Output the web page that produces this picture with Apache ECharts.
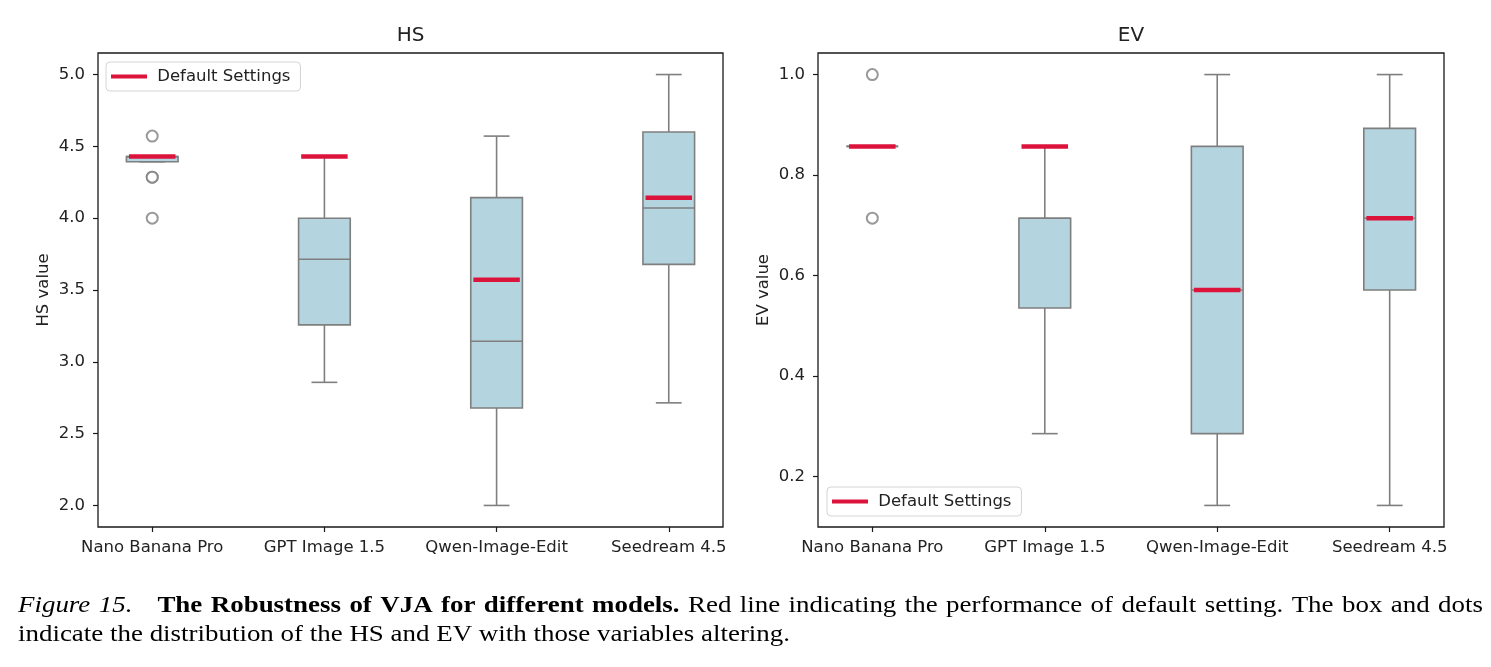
<!DOCTYPE html>
<html>
<head>
<meta charset="utf-8">
<title>Robustness of VJA</title>
<script src="https://cdn.jsdelivr.net/npm/echarts@6/dist/echarts.min.js"></script>
<style>
  html, body { margin: 0; padding: 0; background: #fff; }
  #main { width: 1491px; height: 667px; }
</style>
</head>
<body>
<div id="main"></div>
<script>
// models on the x axis
var categories = ['Nano Banana Pro', 'GPT Image 1.5', 'Qwen-Image-Edit', 'Seedream 4.5'];

// HS: [min, q1, median, q3, max] per model
var hsBoxes = [
  [4.3929, 4.3929, 4.4286, 4.4286, 4.4286],
  [2.8571, 3.2571, 3.7143, 4.0, 4.4286],
  [2.0, 2.6786, 3.1429, 4.1429, 4.5714],
  [2.7143, 3.6786, 4.0714, 4.6, 5.0]
];
var hsOutliers = [[0, 4.5714], [0, 4.2857], [0, 4.2857], [0, 4.0]];
var hsDefault = [4.4286, 4.4286, 3.5714, 4.1429];
var hsTicks = [2.0, 2.5, 3.0, 3.5, 4.0, 4.5, 5.0];

// EV: [min, q1, median, q3, max] per model
var evBoxes = [
  [0.8571, 0.8571, 0.8571, 0.8571, 0.8571],
  [0.2857, 0.5357, 0.7143, 0.7143, 0.8571],
  [0.1429, 0.2857, 0.5714, 0.8571, 1.0],
  [0.1429, 0.5714, 0.7143, 0.8929, 1.0]
];
var evOutliers = [[0, 1.0], [0, 0.7143]];
var evDefault = [0.8571, 0.8571, 0.5714, 0.7143];
var evTicks = [0.2, 0.4, 0.6, 0.8, 1.0];

var catPos = [0, 1, 2, 3];
var boxFill = '#b4d4df';
var boxEdge = '#7f7f7f';
var red = '#dc143c';
var ink = '#1a1a1a';
var sans = 'DejaVu Sans';
var serif = 'Liberation Serif';

var chart = echarts.init(document.getElementById('main'));

function renderBox(params, api) {
  var x = api.value(0);
  var lo = api.coord([x, api.value(1)]);
  var q1 = api.coord([x, api.value(2)]);
  var md = api.coord([x, api.value(3)]);
  var q3 = api.coord([x, api.value(4)]);
  var hi = api.coord([x, api.value(5)]);
  var w = api.size([0.3, 0])[0];
  var cx = lo[0];
  var ls = { stroke: boxEdge, lineWidth: 1.6 };
  return {
    type: 'group',
    children: [
      { type: 'line', shape: { x1: cx, y1: lo[1], x2: cx, y2: q1[1] }, style: ls },
      { type: 'line', shape: { x1: cx, y1: q3[1], x2: cx, y2: hi[1] }, style: ls },
      { type: 'line', shape: { x1: cx - w / 4, y1: lo[1], x2: cx + w / 4, y2: lo[1] }, style: ls },
      { type: 'line', shape: { x1: cx - w / 4, y1: hi[1], x2: cx + w / 4, y2: hi[1] }, style: ls },
      { type: 'rect', shape: { x: cx - w / 2, y: q3[1], width: w, height: q1[1] - q3[1] },
        style: { fill: boxFill, stroke: boxEdge, lineWidth: 1.6 } },
      { type: 'line', shape: { x1: cx - w / 2, y1: md[1], x2: cx + w / 2, y2: md[1] }, style: ls }
    ]
  };
}

function renderDefault(params, api) {
  var p = api.coord([api.value(0), api.value(1)]);
  var w = api.size([0.27, 0])[0];
  return {
    type: 'line',
    shape: { x1: p[0] - w / 2, y1: p[1], x2: p[0] + w / 2, y2: p[1] },
    style: { stroke: red, lineWidth: 4.5 }
  };
}

function xAxisFor(idx) {
  return {
    type: 'value', gridIndex: idx, min: -0.315, max: 3.315,
    axisLine: { show: false, onZero: false },
    splitLine: { show: false },
    axisTick: { show: true, length: 5, customValues: catPos, lineStyle: { color: ink, width: 1.2 } },
    axisLabel: {
      customValues: catPos, margin: 12, fontSize: 16.5, fontFamily: sans, color: '#222',
      formatter: function (v) { return categories[Math.round(v)]; }
    }
  };
}

function yAxisFor(idx, name, min, max, ticks, digits) {
  return {
    type: 'value', gridIndex: idx, min: min, max: max,
    name: name, nameLocation: 'middle', nameGap: 46,
    nameTextStyle: { fontSize: 16.5, fontFamily: sans, color: '#222' },
    axisLine: { show: false, onZero: false },
    splitLine: { show: false },
    axisTick: { show: true, length: 5, customValues: ticks, lineStyle: { color: ink, width: 1.2 } },
    axisLabel: {
      customValues: ticks, margin: 13, fontSize: 16.5, fontFamily: sans, color: '#222',
      formatter: function (v) { return v.toFixed(digits); }
    }
  };
}

function legendAt(left, top) {
  return {
    left: left, top: top, orient: 'horizontal',
    data: [{ name: 'Default Settings', icon: 'rect' }],
    itemWidth: 36, itemHeight: 4,
    formatter: ' {name}',
    textStyle: { fontSize: 16.5, fontFamily: sans, color: '#222' },
    backgroundColor: '#fff', borderColor: '#d4d4d4', borderWidth: 1, borderRadius: 4,
    padding: [6, 10, 6, 5],
    selectedMode: false
  };
}

// caption: line 1 is justified, so word gaps are widened to reach the right edge
var capSize = 23;
var ctx = document.createElement('canvas').getContext('2d');
function tw(style, s) {
  ctx.font = style + ' ' + capSize + 'px "' + serif + '"';
  return ctx.measureText(s).width;
}
var capItalic = ['Figure', '15.'];
var capBold = ['The', 'Robustness', 'of', 'VJA', 'for', 'different', 'models.'];
var capPlain = ('Red line indicating the performance of default setting. The box and dots').split(' ');
var capLine2 = 'indicate the distribution of the HS and EV with those variables altering.';

var s2 = 772 / tw('normal', capLine2);
var wordsW = 0;
capItalic.forEach(function (w) { wordsW += tw('italic', w); });
capBold.forEach(function (w) { wordsW += tw('bold', w); });
capPlain.forEach(function (w) { wordsW += tw('normal', w); });
var bigGap = 25 / s2;
var nGaps = (capItalic.length - 1) + (capBold.length - 1) + 1 + (capPlain.length - 1);
var gapW = (1465 / s2 - wordsW - bigGap) / nGaps;
var sp = '{sp| }';
var line1 = capItalic.map(function (w) { return '{it|' + w + '}'; }).join(sp) + '{gp| }' +
  capBold.map(function (w) { return '{bd|' + w + '}'; }).join(sp) + sp +
  capPlain.map(function (w) { return '{rg|' + w + '}'; }).join(sp);

var option = {
  animation: false,
  backgroundColor: '#fff',
  title: [
    { text: 'HS', left: 410.5, top: 26, textAlign: 'center', padding: 0,
      textStyle: { fontSize: 20, fontWeight: 'normal', fontFamily: sans, color: '#222' } },
    { text: 'EV', left: 1131, top: 26, textAlign: 'center', padding: 0,
      textStyle: { fontSize: 20, fontWeight: 'normal', fontFamily: sans, color: '#222' } }
  ],
  legend: [legendAt(106, 62), legendAt(827, 487)],
  grid: [
    { left: 98, top: 53, width: 625, height: 474, show: true, borderColor: ink, borderWidth: 1.3 },
    { left: 818, top: 53, width: 626, height: 474, show: true, borderColor: ink, borderWidth: 1.3 }
  ],
  xAxis: [xAxisFor(0), xAxisFor(1)],
  yAxis: [
    yAxisFor(0, 'HS value', 1.85, 5.15, hsTicks, 1),
    yAxisFor(1, 'EV value', 0.1, 1.0429, evTicks, 1)
  ],
  series: [
    {
      type: 'custom', name: 'HS box', xAxisIndex: 0, yAxisIndex: 0,
      renderItem: renderBox,
      encode: { x: 0, y: [1, 2, 3, 4, 5] },
      data: hsBoxes.map(function (b, i) { return [i].concat(b); })
    },
    {
      type: 'scatter', name: 'HS outliers', xAxisIndex: 0, yAxisIndex: 0,
      symbol: 'emptyCircle', symbolSize: 11,
      itemStyle: { color: boxEdge, borderWidth: 1.6 },
      data: hsOutliers
    },
    {
      type: 'custom', name: 'Default Settings', xAxisIndex: 0, yAxisIndex: 0, z: 5,
      itemStyle: { color: red },
      renderItem: renderDefault,
      encode: { x: 0, y: 1 },
      data: hsDefault.map(function (v, i) { return [i, v]; })
    },
    {
      type: 'custom', name: 'EV box', xAxisIndex: 1, yAxisIndex: 1,
      renderItem: renderBox,
      encode: { x: 0, y: [1, 2, 3, 4, 5] },
      data: evBoxes.map(function (b, i) { return [i].concat(b); })
    },
    {
      type: 'scatter', name: 'EV outliers', xAxisIndex: 1, yAxisIndex: 1,
      symbol: 'emptyCircle', symbolSize: 11,
      itemStyle: { color: boxEdge, borderWidth: 1.6 },
      data: evOutliers
    },
    {
      type: 'custom', name: 'Default Settings', xAxisIndex: 1, yAxisIndex: 1, z: 5,
      itemStyle: { color: red },
      renderItem: renderDefault,
      encode: { x: 0, y: 1 },
      data: evDefault.map(function (v, i) { return [i, v]; })
    }
  ],
  graphic: [
    {
      type: 'text', x: 18, y: 606, scaleX: s2, originX: 0,
      style: {
        text: line1,
        fontFamily: serif, fontSize: capSize, fill: '#000', verticalAlign: 'middle',
        rich: {
          it: { fontStyle: 'italic', fontFamily: serif, fontSize: capSize, fill: '#000' },
          bd: { fontWeight: 'bold', fontFamily: serif, fontSize: capSize, fill: '#000' },
          rg: { fontFamily: serif, fontSize: capSize, fill: '#000' },
          sp: { width: gapW, fontFamily: serif, fontSize: capSize },
          gp: { width: bigGap, fontFamily: serif, fontSize: capSize }
        }
      }
    },
    {
      type: 'text', x: 18, y: 635, scaleX: s2, originX: 0,
      style: {
        text: capLine2, fontFamily: serif, fontSize: capSize, fill: '#000', verticalAlign: 'middle'
      }
    }
  ]
};

chart.setOption(option);
</script>
</body>
</html>
